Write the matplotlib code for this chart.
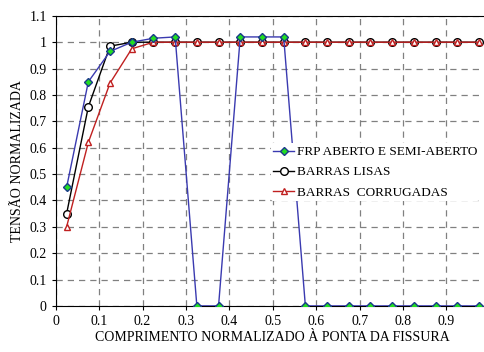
import matplotlib.pyplot as plt

plt.rcParams['font.family'] = ['Liberation Serif', 'DejaVu Serif']

x = [0.025, 0.075, 0.125, 0.175, 0.225, 0.275, 0.325, 0.375, 0.425, 0.475,
     0.525, 0.575, 0.625, 0.675, 0.725, 0.775, 0.825, 0.875, 0.925, 0.975]
frp = [0.45, 0.85, 0.965, 1.0, 1.015, 1.02, 0, 0, 1.02, 1.02,
       1.02, 0, 0, 0, 0, 0, 0, 0, 0, 0]
lisas = [0.35, 0.755, 0.985, 1.0, 1.0, 1.0, 1.0, 1.0, 1.0, 1.0,
         1.0, 1.0, 1.0, 1.0, 1.0, 1.0, 1.0, 1.0, 1.0, 1.0]
corrugadas = [0.30, 0.62, 0.845, 0.975, 1.0, 1.0, 1.0, 1.0, 1.0, 1.0,
              1.0, 1.0, 1.0, 1.0, 1.0, 1.0, 1.0, 1.0, 1.0, 1.0]

fig = plt.figure(figsize=(4.85, 3.52), dpi=100)
ax = fig.add_axes([0.115, 0.131, 0.895, 0.824])

ax.plot(x, corrugadas, color='#c02020', lw=1, marker='^', ms=4.5,
        mfc='white', mec='#c02020', label='BARRAS  CORRUGADAS', zorder=3)
ax.plot(x, lisas, color='black', lw=1, marker='o', ms=5.5,
        mfc='white', mec='black', label='BARRAS LISAS', zorder=2)
ax.plot(x, frp, color='#3a3ab0', lw=1, marker='D', ms=4.5,
        mfc='#22dd22', mec='#1a3a8a', label='FRP ABERTO E SEMI-ABERTO', zorder=4)

ax.set_xlim(0, 1.0)
ax.set_ylim(0, 1.1)
ax.set_xticks([0, 0.1, 0.2, 0.3, 0.4, 0.5, 0.6, 0.7, 0.8, 0.9])
ax.set_xticklabels(['0', '0.1', '0.2', '0.3', '0.4', '0.5', '0.6', '0.7', '0.8', '0.9'])
ax.set_yticks([0, 0.1, 0.2, 0.3, 0.4, 0.5, 0.6, 0.7, 0.8, 0.9, 1.0, 1.1])
ax.set_yticklabels(['0', '0.1', '0.2', '0.3', '0.4', '0.5', '0.6', '0.7', '0.8', '0.9', '1', '1.1'])
ax.tick_params(labelsize=10, length=3)
ax.grid(True, ls=(0, (5, 4)), color='gray', lw=0.9)
ax.set_axisbelow(True)

ax.set_xlabel('COMPRIMENTO NORMALIZADO À PONTA DA FISSURA', fontsize=10, labelpad=2)
ax.set_ylabel('TENSÃO NORMALIZADA', fontsize=10)

handles, labels = ax.get_legend_handles_labels()
leg = ax.legend(handles[::-1], labels[::-1], loc='upper left',
                bbox_to_anchor=(0.495, 0.56), frameon=True, fontsize=9.5,
                handlelength=1.6, handletextpad=0.2, labelspacing=0.6,
                borderpad=0.2, borderaxespad=0)
leg.get_frame().set_edgecolor('none')
leg.get_frame().set_facecolor('white')
leg.get_frame().set_alpha(1)

fig.savefig('out.png', dpi=100)
